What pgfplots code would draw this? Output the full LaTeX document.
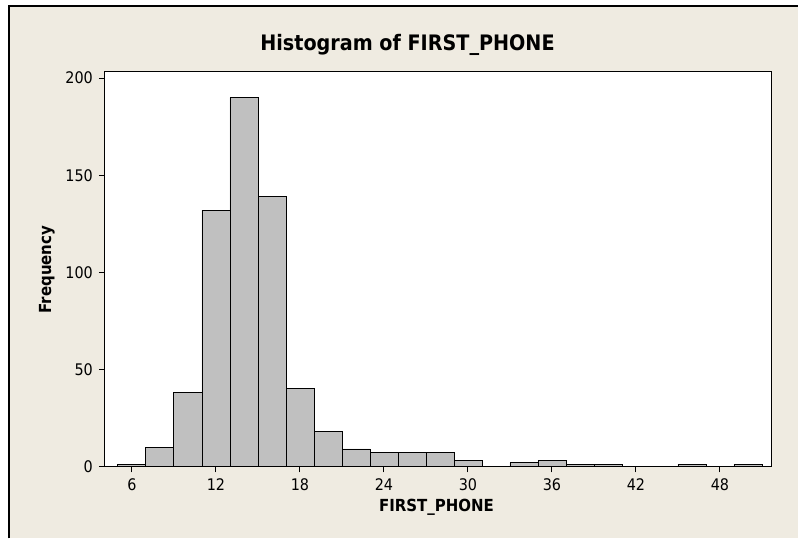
\documentclass[border=0pt]{standalone}
\usepackage{pgfplots}
\pgfplotsset{compat=1.18}
\usepackage{fontspec}
\setmainfont{DejaVu Sans Condensed}
\definecolor{bgbeige}{HTML}{EFEBE1}
\definecolor{bargray}{HTML}{C0C0C0}
\begin{document}
\begin{tikzpicture}
\fill[white] (0,0) rectangle (599.25pt,404.25pt);
\fill[bgbeige] (6.75pt,0) rectangle (599.25pt,399.75pt);
\draw[line width=1.5pt] (6.75pt,0) -- (6.75pt,399.75pt) -- (599.25pt,399.75pt);
\begin{axis}[
  at={(78.75pt,54pt)}, anchor=south west,
  scale only axis, width=500.8pt, height=296.25pt,
  xmin=4.07, xmax=51.7, ymin=0, ymax=203.2,
  axis background/.style={fill=white},
  xtick={6,12,...,48}, ytick={0,50,100,150,200},
  tick align=outside, major tick length=4.5pt,
  xtick pos=bottom, ytick pos=left,
  axis line style={black, line width=0.8pt},
  tick style={black, line width=0.8pt},
  ticklabel style={font=\fontsize{12}{14}\selectfont},
  /pgf/number format/assume math mode=true,
  xticklabel style={yshift=-1pt},
  yticklabel style={xshift=-1pt},
]
\addplot[ybar interval, fill=bargray, draw=black, line width=0.6pt] coordinates {
(5,1) (7,10) (9,38) (11,132) (13,190) (15,139) (17,40) (19,18) (21,9)
(23,7) (25,7) (27,7) (29,3) (31,0) (33,2) (35,3) (37,1) (39,1) (41,0)
(43,0) (45,1) (47,0) (49,1) (51,1)
};
\end{axis}
\node[font=\fontsize{16}{18}\selectfont\bfseries] at (306pt,370.5pt) {Histogram of FIRST\_PHONE};
\node[font=\fontsize{12.5}{14}\selectfont\bfseries] at (327.75pt,23.25pt) {FIRST\_PHONE};
\node[font=\fontsize{12.5}{14}\selectfont\bfseries, rotate=90] at (35.25pt,201.75pt) {Frequency};
\end{tikzpicture}
\end{document}
